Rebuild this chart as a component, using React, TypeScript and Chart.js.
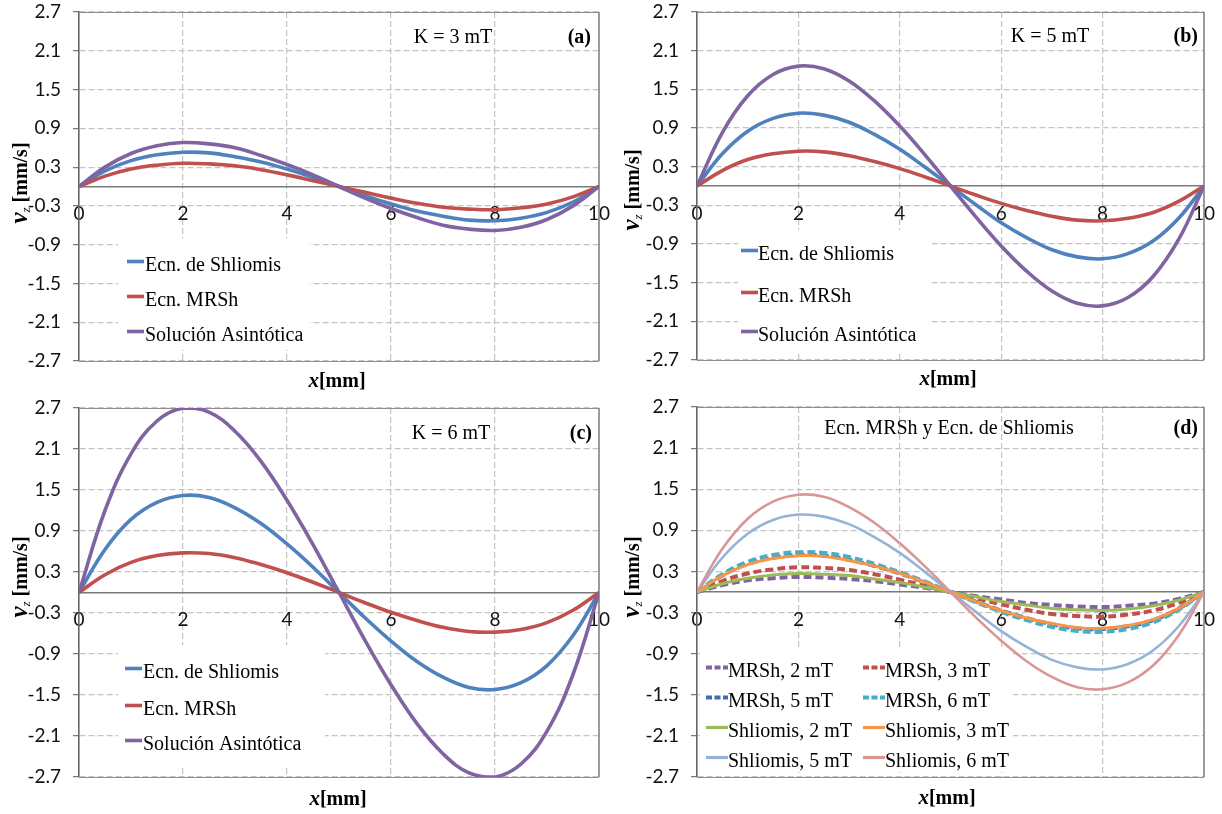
import { useEffect, useRef } from "react";
import { Chart, registerables } from "chart.js";

Chart.register(...registerables);

// Sampling positions along the gap, in mm
const xMm = [0, 0.5, 1, 1.5, 2, 2.5, 3, 3.5, 4, 4.5, 5, 5.5, 6, 6.5, 7, 7.5, 8, 8.5, 9, 9.5, 10];
const yTickValues = [-2.7, -2.1, -1.5, -0.9, -0.3, 0.3, 0.9, 1.5, 2.1, 2.7];
const xTickValues = [0, 2, 4, 6, 8, 10];

// v_z [mm/s] — modified Shliomis equation (MRSh)
const mrsh2mT = [0, 0.10, 0.17, 0.20, 0.22, 0.21, 0.19, 0.16, 0.11, 0.06, 0, -0.06, -0.11, -0.16, -0.19, -0.21, -0.22, -0.20, -0.17, -0.10, 0];
const mrsh3mT = [0, 0.16, 0.27, 0.33, 0.36, 0.35, 0.32, 0.26, 0.18, 0.09, 0, -0.09, -0.18, -0.26, -0.32, -0.35, -0.36, -0.33, -0.27, -0.16, 0];
const mrsh5mT = [0, 0.24, 0.41, 0.50, 0.54, 0.53, 0.47, 0.38, 0.27, 0.14, 0, -0.14, -0.27, -0.38, -0.47, -0.53, -0.54, -0.50, -0.41, -0.24, 0];
const mrsh6mT = [0, 0.26, 0.44, 0.54, 0.58, 0.57, 0.51, 0.41, 0.29, 0.15, 0, -0.15, -0.29, -0.41, -0.51, -0.57, -0.58, -0.54, -0.44, -0.26, 0];

// v_z [mm/s] — Shliomis equation
const shliomis2mT = [0, 0.12, 0.20, 0.25, 0.27, 0.26, 0.24, 0.19, 0.14, 0.07, 0, -0.07, -0.14, -0.19, -0.24, -0.26, -0.27, -0.25, -0.20, -0.12, 0];
const shliomis3mT = [0, 0.24, 0.40, 0.49, 0.53, 0.52, 0.46, 0.38, 0.27, 0.14, 0, -0.14, -0.27, -0.38, -0.46, -0.52, -0.53, -0.49, -0.40, -0.24, 0];
const shliomis5mT = [0, 0.50, 0.85, 1.05, 1.13, 1.10, 0.99, 0.80, 0.57, 0.29, 0, -0.29, -0.57, -0.80, -0.99, -1.10, -1.13, -1.05, -0.85, -0.50, 0];
const shliomis6mT = [0, 0.63, 1.07, 1.32, 1.42, 1.39, 1.24, 1.01, 0.71, 0.37, 0, -0.37, -0.71, -1.01, -1.24, -1.39, -1.42, -1.32, -1.07, -0.63, 0];

// v_z [mm/s] — asymptotic solution
const asintotica3mT = [0, 0.30, 0.51, 0.63, 0.68, 0.66, 0.60, 0.48, 0.34, 0.18, 0, -0.18, -0.34, -0.48, -0.60, -0.66, -0.68, -0.63, -0.51, -0.30, 0];
const asintotica5mT = [0, 0.83, 1.40, 1.73, 1.86, 1.82, 1.63, 1.32, 0.93, 0.48, 0, -0.48, -0.93, -1.32, -1.63, -1.82, -1.86, -1.73, -1.40, -0.83, 0];
const asintotica6mT = [0, 1.20, 2.03, 2.51, 2.70, 2.64, 2.36, 1.92, 1.35, 0.70, 0, -0.70, -1.35, -1.92, -2.36, -2.64, -2.70, -2.51, -2.03, -1.20, 0];

const BLUE = "#4F81BD";
const RED = "#C0504D";
const PURPLE = "#8064A2";
const GRID = "#c4c4c4";
const AXIS = "#7a7a7a";
const SERIF = '"Liberation Serif", "Times New Roman", serif';
const TICK_FONT = { family: "Lato, 'Open Sans', sans-serif", size: 19 };

type Series = { label: string; values: number[]; color: string; width: number; dash?: number[] };
type PanelSpec = {
  box: { left: number; top: number; width: number; height: number };
  area: { left: number; top: number; right: number; bottom: number };
  title: string;
  titleX: number;
  titleBaseline: number;
  tag: string;
  tagRight: number;
  series: Series[];
  legendBox: { x: number; y: number; w: number; h: number };
  legendCols: { lineX: number; textX: number }[];
  legendLine: number;
  legendBaselines: number[];
  xTitle: { cx: number; baseline: number };
  yTitle: { cx: number; cy: number };
};

const mainTrio = (sh: number[], mr: number[], as: number[]): Series[] => [
  { label: "Ecn. de Shliomis", values: sh, color: BLUE, width: 3.6 },
  { label: "Ecn. MRSh", values: mr, color: RED, width: 3.6 },
  { label: "Solución Asintótica", values: as, color: PURPLE, width: 3.6 },
];

const DASH = [8, 4];

const panels: PanelSpec[] = [
  {
    box: { left: 0, top: 0, width: 611, height: 400 },
    area: { left: 79, top: 12, right: 599, bottom: 361 },
    title: "K = 3 mT", titleX: 453, titleBaseline: 43,
    tag: "(a)", tagRight: 591,
    series: mainTrio(shliomis3mT, mrsh3mT, asintotica3mT),
    legendBox: { x: 118, y: 238, w: 192, h: 112 },
    legendCols: [{ lineX: 127, textX: 145 }], legendLine: 17,
    legendBaselines: [271, 306, 341],
    xTitle: { cx: 337, baseline: 387 },
    yTitle: { cx: 20, cy: 183 },
  },
  {
    box: { left: 611, top: 0, width: 611, height: 400 },
    area: { left: 697, top: 12, right: 1204, bottom: 360 },
    title: "K = 5 mT", titleX: 1050, titleBaseline: 42,
    tag: "(b)", tagRight: 1198,
    series: mainTrio(shliomis5mT, mrsh5mT, asintotica5mT),
    legendBox: { x: 738, y: 230, w: 192, h: 122 },
    legendCols: [{ lineX: 741, textX: 758 }], legendLine: 17,
    legendBaselines: [260, 302, 341],
    xTitle: { cx: 948, baseline: 385 },
    yTitle: { cx: 632, cy: 190 },
  },
  {
    box: { left: 0, top: 390, width: 611, height: 424 },
    area: { left: 79, top: 408, right: 599, bottom: 777 },
    title: "K = 6 mT", titleX: 451, titleBaseline: 439,
    tag: "(c)", tagRight: 592,
    series: mainTrio(shliomis6mT, mrsh6mT, asintotica6mT),
    legendBox: { x: 118, y: 645, w: 207, h: 123 },
    legendCols: [{ lineX: 125, textX: 143 }], legendLine: 17,
    legendBaselines: [678, 715, 750],
    xTitle: { cx: 338, baseline: 805 },
    yTitle: { cx: 20, cy: 577 },
  },
  {
    box: { left: 611, top: 390, width: 611, height: 424 },
    area: { left: 697, top: 407, right: 1204, bottom: 777 },
    title: "Ecn. MRSh y Ecn. de Shliomis", titleX: 949, titleBaseline: 434,
    tag: "(d)", tagRight: 1198,
    series: [
      { label: "MRSh, 2 mT", values: mrsh2mT, color: PURPLE, width: 4, dash: DASH },
      { label: "MRSh, 3 mT", values: mrsh3mT, color: RED, width: 4, dash: DASH },
      { label: "MRSh, 5 mT", values: mrsh5mT, color: "#3F6DB3", width: 4, dash: DASH },
      { label: "MRSh, 6 mT", values: mrsh6mT, color: "#4BACC6", width: 4, dash: DASH },
      { label: "Shliomis, 2 mT", values: shliomis2mT, color: "#9BBB59", width: 3 },
      { label: "Shliomis, 3 mT", values: shliomis3mT, color: "#F79646", width: 3 },
      { label: "Shliomis, 5 mT", values: shliomis5mT, color: "#95B3D7", width: 2.6 },
      { label: "Shliomis, 6 mT", values: shliomis6mT, color: "#D99694", width: 2.6 },
    ],
    legendBox: { x: 700, y: 650, w: 313, h: 122 },
    legendCols: [{ lineX: 706, textX: 728 }, { lineX: 863, textX: 885 }], legendLine: 22,
    legendBaselines: [677, 707, 737, 767],
    xTitle: { cx: 947, baseline: 804 },
    yTitle: { cx: 632, cy: 577 },
  },
];

type Run = { text: string; font: string; dy?: number };

function drawRuns(ctx: CanvasRenderingContext2D, runs: Run[], x: number, y: number, align: "left" | "center" | "right") {
  const widths = runs.map((r) => {
    ctx.font = r.font;
    return ctx.measureText(r.text).width;
  });
  const total = widths.reduce((a, b) => a + b, 0);
  let cx = align === "center" ? x - total / 2 : align === "right" ? x - total : x;
  ctx.textAlign = "left";
  ctx.textBaseline = "alphabetic";
  runs.forEach((r, i) => {
    ctx.font = r.font;
    ctx.fillText(r.text, cx, y + (r.dy || 0));
    cx += widths[i];
  });
}

function Panel({ spec }: { spec: PanelSpec }) {
  const ref = useRef<HTMLCanvasElement | null>(null);

  useEffect(() => {
    const canvas = ref.current;
    if (!canvas) return;
    const ox = spec.box.left;
    const oy = spec.box.top;
    const n = spec.series.length;

    const decorations = {
      id: "panelDecorations",
      beforeDatasetsDraw(chart: any) {
        const ctx: CanvasRenderingContext2D = chart.ctx;
        const a = chart.chartArea;
        ctx.save();
        // legend background hides the grid behind it
        const lb = spec.legendBox;
        ctx.fillStyle = "#ffffff";
        ctx.fillRect(lb.x - ox, lb.y - oy, lb.w, lb.h);
        // plot-area frame
        ctx.strokeStyle = "#8e8e8e";
        ctx.lineWidth = 1;
        ctx.setLineDash([]);
        ctx.beginPath();
        ctx.moveTo(a.left, Math.round(a.top) + 0.5);
        ctx.lineTo(a.right, Math.round(a.top) + 0.5);
        ctx.moveTo(a.left, Math.round(a.bottom) + 0.5);
        ctx.lineTo(a.right, Math.round(a.bottom) + 0.5);
        ctx.stroke();
        ctx.strokeStyle = AXIS;
        ctx.lineWidth = 1.5;
        ctx.beginPath();
        ctx.moveTo(a.right, a.top);
        ctx.lineTo(a.right, a.bottom);
        ctx.stroke();
        ctx.restore();
      },
      afterDraw(chart: any) {
        const ctx: CanvasRenderingContext2D = chart.ctx;
        ctx.save();
        ctx.fillStyle = "#000000";

        // legend entries
        const cols = spec.legendCols.length;
        spec.series.forEach((s, i) => {
          const col = spec.legendCols[i % cols];
          const base = spec.legendBaselines[Math.floor(i / cols)] - oy;
          const ly = base - 9.5;
          ctx.strokeStyle = s.color;
          ctx.lineWidth = s.dash ? 4 : Math.max(s.width, 3.2);
          ctx.setLineDash(s.dash ? [6, 2.5] : []);
          ctx.lineCap = "butt";
          ctx.beginPath();
          ctx.moveTo(col.lineX - ox, ly);
          ctx.lineTo(col.lineX - ox + spec.legendLine, ly);
          ctx.stroke();
          ctx.setLineDash([]);
          ctx.fillStyle = "#000000";
          drawRuns(ctx, [{ text: s.label, font: `20px ${SERIF}` }], col.textX - ox, base, "left");
        });

        // panel caption and tag
        drawRuns(ctx, [{ text: spec.title, font: `20px ${SERIF}` }], spec.titleX - ox, spec.titleBaseline - oy, "center");
        drawRuns(ctx, [{ text: spec.tag, font: `bold 20px ${SERIF}` }], spec.tagRight - ox, spec.titleBaseline - oy, "right");

        // axis titles
        drawRuns(
          ctx,
          [
            { text: "x", font: `italic bold 21px ${SERIF}` },
            { text: "[mm]", font: `bold 20px ${SERIF}` },
          ],
          spec.xTitle.cx - ox,
          spec.xTitle.baseline - oy,
          "center"
        );
        ctx.translate(spec.yTitle.cx - ox, spec.yTitle.cy - oy);
        ctx.rotate(-Math.PI / 2);
        drawRuns(
          ctx,
          [
            { text: "v", font: `italic bold 25px ${SERIF}` },
            { text: "z", font: `italic 13px ${SERIF}`, dy: 3 },
            { text: " [mm/s]", font: `bold 20px ${SERIF}` },
          ],
          0,
          7,
          "center"
        );
        ctx.restore();
      },
    };

    const chart = new Chart(canvas, {
      type: "line",
      data: {
        datasets: spec.series.map((s, i) => ({
          label: s.label,
          data: xMm.map((x, k) => ({ x, y: s.values[k] })),
          borderColor: s.color,
          backgroundColor: s.color,
          borderWidth: s.width,
          borderDash: s.dash || [],
          borderCapStyle: "butt" as const,
          pointRadius: 0,
          fill: false,
          tension: 0.4,
          order: n - i,
        })),
      },
      options: {
        animation: false,
        responsive: false,
        maintainAspectRatio: false,
        devicePixelRatio: 1,
        events: [],
        layout: {
          padding: {
            left: 0,
            top: spec.area.top - oy,
            right: ox + spec.box.width - spec.area.right,
            bottom: oy + spec.box.height - spec.area.bottom,
          },
        },
        plugins: {
          legend: { display: false },
          tooltip: { enabled: false },
          title: { display: false },
        },
        scales: {
          x: {
            type: "linear",
            min: 0,
            max: 10,
            position: { y: 0 } as any,
            afterBuildTicks: (scale: any) => {
              scale.ticks = xTickValues.map((v) => ({ value: v }));
            },
            // keep the plot area where the layout padding puts it
            afterFit: (scale: any) => {
              scale.paddingLeft = 0;
              scale.paddingRight = 0;
            },
            ticks: {
              font: TICK_FONT,
              color: "#111111",
              padding: 16,
              maxRotation: 0,
              autoSkip: false,
              callback: (v: any) => String(v),
            },
            grid: {
              drawTicks: false,
              lineWidth: 1.2,
              color: (c: any) =>
                c.tick && (c.tick.value === 0 || c.tick.value === 10) ? "rgba(0,0,0,0)" : GRID,
            },
            border: { display: true, color: AXIS, width: 1.5, dash: [6, 3] },
          },
          y: {
            type: "linear",
            position: "left",
            min: -2.7,
            max: 2.7,
            afterFit: (scale: any) => {
              scale.width = spec.area.left - ox;
              scale.paddingTop = 0;
              scale.paddingBottom = 0;
            },
            afterBuildTicks: (scale: any) => {
              scale.ticks = yTickValues.map((v) => ({ value: v }));
            },
            ticks: {
              font: TICK_FONT,
              color: "#111111",
              padding: 12,
              autoSkip: false,
              callback: (v: any) => Number(v).toFixed(1),
            },
            grid: {
              lineWidth: 1.2,
              color: GRID,
              drawTicks: true,
              tickLength: 6,
              tickColor: AXIS,
              tickWidth: 1.2,
              tickBorderDash: [1, 0],
            },
            border: { display: true, color: "#666666", width: 1.6, dash: [6, 3] },
          },
        },
      },
      plugins: [decorations],
    } as any);

    return () => chart.destroy();
  }, [spec]);

  return (
    <canvas
      ref={ref}
      width={spec.box.width}
      height={spec.box.height}
      style={{
        position: "absolute",
        left: spec.box.left,
        top: spec.box.top,
        width: spec.box.width,
        height: spec.box.height,
      }}
    />
  );
}

export default function App() {
  return (
    <div
      style={{
        position: "absolute",
        left: 0,
        top: 0,
        width: 1222,
        height: 814,
        background: "#ffffff",
        overflow: "hidden",
      }}
    >
      {panels.map((p, i) => (
        <Panel key={i} spec={p} />
      ))}
    </div>
  );
}
